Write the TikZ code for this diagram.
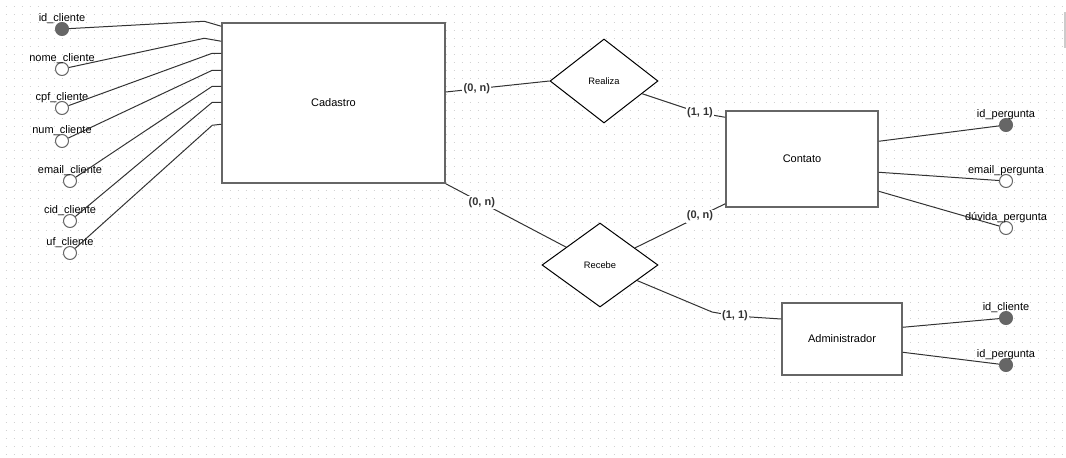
\documentclass[tikz,border=0pt]{standalone}
\usepackage{fontspec}
\setmainfont{Liberation Sans}
\usetikzlibrary{shapes.geometric,calc}

\begin{document}
\begin{tikzpicture}[x=0.75pt,y=-0.75pt,
      entity/.style={
        rectangle,
        draw=black!60,
        line width=1.1pt,
        fill=white,
        font=\fontsize{8.25}{10}\selectfont},
      relation/.style={
        diamond,
        draw,
        line width=0.75pt,
        fill=white,
        inner sep=0pt,
        font=\fontsize{7}{8}\selectfont},
      key/.style={
        circle,
        draw=black!60,
        fill=black!60,
        line width=0.75pt,
        minimum size=9.75pt,
        inner sep=0pt},
      attr/.style={
        circle,
        draw=black!60,
        fill=white,
        line width=0.75pt,
        minimum size=9.75pt,
        inner sep=0pt},
      every label/.style={
        inner sep=0pt,
        label distance=-1.5pt,
        font=\fontsize{8.25}{10}\selectfont},
      card/.style={
        fill=white,
        inner sep=1pt,
        font=\bfseries\fontsize{8.25}{10}\selectfont},
      link/.style={black!80,line width=0.75pt},
      griddot/.style={black!18,line width=0.75pt,dash pattern=on 0.75pt off 5.25pt}
    ]
    \useasboundingbox (0,0) rectangle (1066,457);
    \foreach \y in {6,14,...,454}
      \draw[griddot] (5.5,\y) -- (1066,\y);
    \draw[black!20,line width=1.5pt] (1065,12) -- (1065,48);

    % entidades e relacionamentos
    \node[entity,minimum width=167.25pt,minimum height=120pt] at (333.5,103) (A) {Cadastro};
    \node[relation,minimum width=81pt,minimum height=63pt] at (604,81) (B) {Realiza};
    \node[entity,minimum width=114pt,minimum height=72pt] at (802,159) (C) {Contato};
    \node[relation,minimum width=87pt,minimum height=63pt] at (600,265) (D) {Recebe};
    \node[entity,minimum width=90pt,minimum height=54pt] at (842,339) (E) {Administrador};

    % atributos
    \node[key,label=above:id\_cliente] at (62,29) (F) {};
    \node[attr,label=above:nome\_cliente] at (62,69) (G) {};
    \node[attr,label=above:cpf\_cliente] at (62,108) (H) {};
    \node[attr,label=above:num\_cliente] at (62,141) (I) {};
    \node[attr,label=above:email\_cliente] at (70,181) (J) {};
    \node[attr,label=above:cid\_cliente] at (70,221) (K) {};
    \node[attr,label=above:uf\_cliente] at (70,253) (L) {};
    \node[key,label=above:id\_pergunta] at (1006,125) (M) {};
    \node[attr,label=above:email\_pergunta] at (1006,181) (N) {};
    \node[attr,label=above:dúvida\_pergunta] at (1006,228) (O) {};
    \node[key,label=above:id\_cliente] at (1006,318) (P) {};
    \node[key,label=above:id\_pergunta] at (1006,365) (Q) {};

    \coordinate (c1) at (700,113);
    \coordinate (c2) at (712,312);
    \coordinate (c3) at (735,316);

    \draw[link] (F) -- ($(A.north west)+(-17,-1)$) -- ($(A.north west)+(0,4)$);
    \draw[link] (G) -- ($(A.north west)+(-17,16)$) -- ($(A.north west)+(0,19)$);
    \draw[link] (H) -- ($(A.north west)+(-9,31)$) -- ($(A.north west)+(0,31)$);
    \draw[link] (I) -- ($(A.north west)+(-9,48)$) -- ($(A.north west)+(0,48)$);
    \draw[link] (J) -- ($(A.north west)+(-9,64)$) -- ($(A.north west)+(0,64)$);
    \draw[link] (K) -- ($(A.north west)+(-9,80)$) -- ($(A.north west)+(0,80)$);
    \draw[link] (L) -- ($(A.north west)+(-9,103)$) -- ($(A.north west)+(0,102)$);

    \draw[link] ($(A.east)+(0,-11)$) -- node[card,pos=0.3] {(0, n)} (B.west);
    \draw[link] (B) -- (c1) node[card] {(1, 1)} -- ($(C.north west)+(0,7)$);
    \draw[link] (A.south east) -- node[card,pos=0.3] {(0, n)} (D);
    \draw[link] (D) -- node[card,pos=0.72] {(0, n)} ($(C.south west)+(0,-4)$);
    \draw[link] (D) -- (c2) -- (c3) node[card] {(1, 1)} -- ($(E.west)+(0,-20)$);

    \draw[link] ($(C.north east)+(0,31)$) -- (M);
    \draw[link] ($(C.north east)+(0,62)$) -- (N);
    \draw[link] ($(C.north east)+(0,81)$) -- (O);
    \draw[link] ($(E.north east)+(0,25)$) -- (P);
    \draw[link] ($(E.north east)+(0,50)$) -- (Q);
  \end{tikzpicture}
\end{document}
